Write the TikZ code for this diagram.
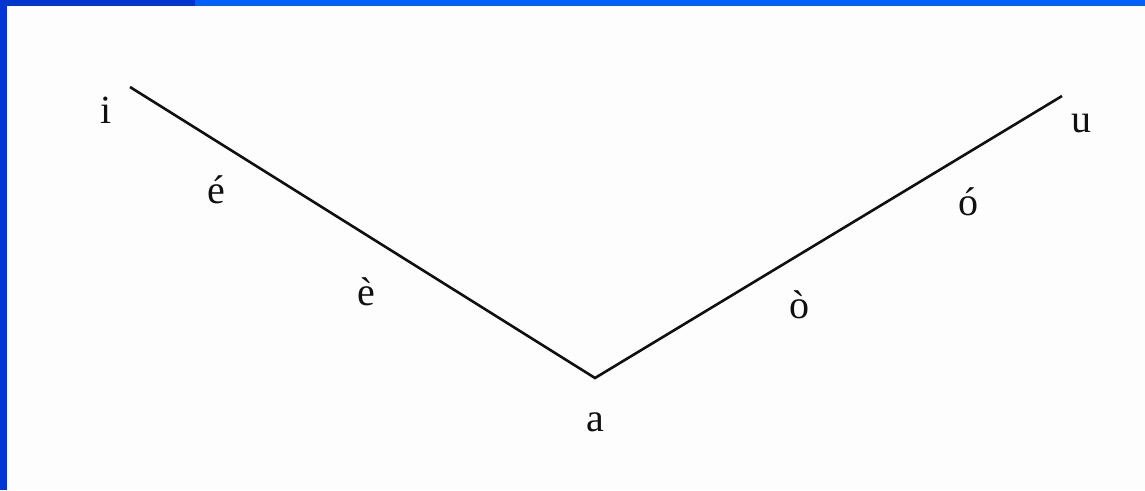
\documentclass[tikz,border=0pt]{standalone}
\usepackage{fontspec}
\setmainfont{Liberation Serif}
\definecolor{bgwhite}{HTML}{FDFDFD}
\definecolor{darkblue}{HTML}{0035D0}
\definecolor{lightblue}{HTML}{0062F5}
\definecolor{ink}{HTML}{101010}
\tikzset{
  lbl/.style={anchor=base, inner sep=0pt, text=ink, font=\fontsize{40}{44}\selectfont},
  edge/.style={draw=ink, line width=2.6pt, line join=miter}
}
\begin{document}
\begin{tikzpicture}[x=1pt, y=-1pt]
\useasboundingbox (0,0) rectangle (1145,490);
\fill[bgwhite] (0,0) rectangle (1145,490);
\fill[darkblue] (0,0) rectangle (7,490);
\fill[darkblue] (0,0) rectangle (195,6);
\fill[lightblue] (195,0) rectangle (1145,6);
\coordinate (pi) at (130,87);
\coordinate (pa) at (595,378);
\coordinate (pu) at (1062,96);
\draw[edge] (pi) -- (pa) -- (pu);
\node[lbl] (i) at (106,123) {i};
\node[lbl] (e1) at (216,203) {é};
\node[lbl] (e2) at (366,305) {è};
\node[lbl] (a) at (595,431) {a};
\node[lbl] (o2) at (799,318) {ò};
\node[lbl] (o1) at (968,215) {ó};
\node[lbl] (u) at (1081,132) {u};
\end{tikzpicture}
\end{document}
